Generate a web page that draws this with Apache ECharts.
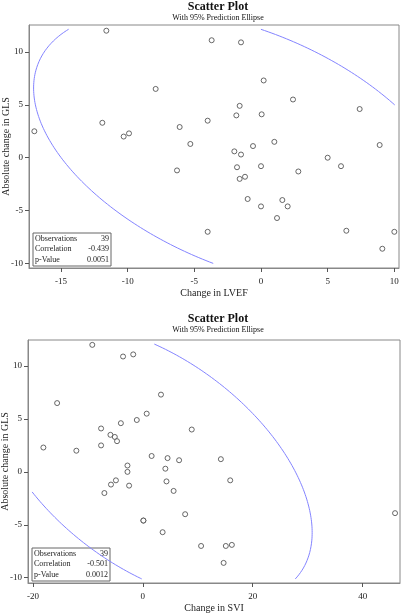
<!DOCTYPE html>
<html>
<head>
<meta charset="utf-8">
<script src="https://cdn.jsdelivr.net/npm/echarts@6/dist/echarts.min.js"></script>
<style>
  html, body { margin: 0; padding: 0; background: #fff; }
  #chart { width: 402px; height: 614px; }
</style>
</head>
<body>
<div id="chart"></div>
<script>
// change in LVEF vs absolute change in GLS
const lvefX = [-17.0, -11.6, -11.9, -10.3, -9.9, -7.9, -6.1, -5.3, -4.0, -3.7,
  -1.85, -1.6, -1.5, -0.6, 0.05, 0.2, 1.0, 2.4, 7.4, 8.9,
  -2.0, -1.5, 5.0, -6.3, -1.8, 0.0, 6.0, 2.8, -1.6, -1.2,
  -1.0, 1.6, 0.0, 2.0, 1.2, -4.0, 6.4, 10.0, 9.1];
const lvefGls = [2.5, 12.0, 3.3, 2.0, 2.3, 6.5, 2.9, 1.3, 3.5, 11.1,
  4.0, 4.9, 10.9, 1.1, 4.1, 7.3, 1.5, 5.5, 4.6, 1.2,
  0.6, 0.3, 0.0, -1.2, -0.9, -0.8, -0.8, -1.3, -2.0, -1.8,
  -3.9, -4.0, -4.6, -4.6, -5.7, -7.0, -6.9, -7.0, -8.6];

// change in SVI vs absolute change in GLS
const sviX = [-9.2, -3.6, -1.75, -15.6, 3.3, 0.7, -1.1, -4.0, -7.6, 8.9,
  -5.9, -5.1, -4.7, -7.6, -18.1, -12.1, 1.6, 4.5, 6.6, 14.2,
  -2.8, 4.1, -2.8, -4.9, -5.8, -2.5, 4.3, 15.9, -7.0, 5.6,
  7.7, 45.9, 0.1, 0.1, 3.6, 10.6, 15.1, 16.2, 14.7];
const sviGls = [12.0, 10.9, 11.1, 6.5, 7.3, 5.5, 4.9, 4.6, 4.1, 4.0,
  3.5, 3.3, 2.9, 2.5, 2.3, 2.0, 1.5, 1.3, 1.1, 1.2,
  0.6, 0.3, 0.0, -0.8, -1.2, -1.3, -0.9, -0.8, -2.0, -1.8,
  -4.0, -3.9, -4.6, -4.6, -5.7, -7.0, -7.0, -6.9, -8.6];

const lvefTicks = [-15, -10, -5, 0, 5, 10];
const sviTicks = [-20, 0, 20, 40];
const glsTicks = [-10, -5, 0, 5, 10];

const statLabels = ['Observations', 'Correlation', 'p-Value'];
const lvefStats = ['39', '-0.439', '0.0051'];
const sviStats = ['39', '-0.501', '0.0012'];

const SERIF = 'Liberation Serif';
const grids = [
  { left: 29, top: 25, width: 370, height: 243 },
  { left: 28, top: 340, width: 372, height: 243 }
];
const xRanges = [[-17.4, 10.35], [-20.9, 46.8]];
const yRanges = [[-10.42, 12.54], [-10.5, 12.46]];

function mean(a) { return a.reduce((s, v) => s + v, 0) / a.length; }

// 95% prediction ellipse, clipped a few px inside the frame like the original
function predictionEllipse(xs, ys, gi) {
  const n = xs.length;
  const mx = mean(xs), my = mean(ys);
  let sxx = 0, syy = 0, sxy = 0;
  for (let i = 0; i < n; i++) {
    sxx += (xs[i] - mx) ** 2;
    syy += (ys[i] - my) ** 2;
    sxy += (xs[i] - mx) * (ys[i] - my);
  }
  sxx /= n - 1; syy /= n - 1; sxy /= n - 1;
  const v = n - 2;
  const f = (v / 2) * (Math.pow(0.05, -2 / v) - 1);
  const c = Math.sqrt(2 * (n - 1) * (n + 1) / (n * (n - 2)) * f);
  const l11 = Math.sqrt(sxx), l21 = sxy / l11, l22 = Math.sqrt(syy - l21 * l21);

  const g = grids[gi], xr = xRanges[gi], yr = yRanges[gi];
  const px = (xr[1] - xr[0]) / g.width, py = (yr[1] - yr[0]) / g.height;
  const inset = 4;
  const x0 = xr[0] + inset * px, x1 = xr[1] - inset * px;
  const y0 = yr[0] + inset * py, y1 = yr[1] - inset * py;

  const pts = [];
  for (let k = 0; k <= 720; k++) {
    const t = k / 720 * Math.PI * 2;
    const x = mx + c * l11 * Math.cos(t);
    const y = my + c * (l21 * Math.cos(t) + l22 * Math.sin(t));
    if (x < x0 || x > x1 || y < y0 || y > y1) pts.push(['-', '-']);
    else pts.push([x, y]);
  }
  return pts;
}

function pairs(xs, ys) { return xs.map((x, i) => [x, ys[i]]); }

function xAxis(gi, name, ticks) {
  return {
    type: 'value', gridIndex: gi, min: xRanges[gi][0], max: xRanges[gi][1],
    name: name, nameLocation: 'middle', nameGap: 20, nameMoveOverlap: false,
    nameTextStyle: { fontFamily: SERIF, fontSize: 10, color: '#222' },
    axisLine: { show: true, onZero: false, lineStyle: { color: '#888' } },
    axisTick: { show: true, length: 4, customValues: ticks, lineStyle: { color: '#555' } },
    axisLabel: { customValues: ticks, fontFamily: SERIF, fontSize: 9, color: '#222', margin: 9 },
    splitLine: { show: false }
  };
}

function yAxis(gi) {
  return {
    type: 'value', gridIndex: gi, min: yRanges[gi][0], max: yRanges[gi][1],
    name: 'Absolute change in GLS', nameLocation: 'middle', nameGap: 18, nameMoveOverlap: false,
    nameTextStyle: { fontFamily: SERIF, fontSize: 10, color: '#222' },
    axisLine: { show: true, onZero: false, lineStyle: { color: '#888' } },
    axisTick: { show: true, length: 4, customValues: glsTicks, lineStyle: { color: '#555' } },
    axisLabel: { customValues: glsTicks, fontFamily: SERIF, fontSize: 9, color: '#222', margin: 6 },
    splitLine: { show: false }
  };
}

function statsBox(gi, values) {
  const g = grids[gi];
  const bx = g.left + 4, by = g.top + g.height - 35, bw = 78, bh = 33;
  const children = [{
    type: 'rect', shape: { x: bx, y: by, width: bw, height: bh },
    style: { fill: '#fff', stroke: '#666', lineWidth: 1 }
  }];
  statLabels.forEach((lab, i) => {
    const ty = by + 6 + i * 10.3;
    children.push({
      type: 'text', x: bx + 2, y: ty,
      style: { text: lab, font: '8px "Liberation Serif"', fill: '#222', textAlign: 'left', textVerticalAlign: 'middle' }
    });
    children.push({
      type: 'text', x: bx + bw - 2, y: ty,
      style: { text: values[i], font: '8px "Liberation Serif"', fill: '#222', textAlign: 'right', textVerticalAlign: 'middle' }
    });
  });
  return { type: 'group', children: children };
}

function titleAt(top) {
  return {
    text: 'Scatter Plot', subtext: 'With 95% Prediction Ellipse',
    left: 218, top: top, textAlign: 'center', padding: 0, itemGap: 1,
    textStyle: { fontFamily: SERIF, fontSize: 12, fontWeight: 'bold', color: '#111' },
    subtextStyle: { fontFamily: SERIF, fontSize: 8, color: '#111' }
  };
}

const markerStyle = { color: '#fff', borderColor: '#444', borderWidth: 1 };
const ellipseStyle = { color: '#8484ff', width: 1 };

const chart = echarts.init(document.getElementById('chart'), null, { renderer: 'canvas' });
chart.setOption({
  animation: false,
  backgroundColor: '#fff',
  title: [titleAt(1), titleAt(313)],
  grid: grids.map(g => Object.assign({
    show: true, borderColor: '#888', borderWidth: 1, backgroundColor: 'transparent',
    containLabel: false, outerBoundsMode: 'none'
  }, g)),
  xAxis: [xAxis(0, 'Change in LVEF', lvefTicks), xAxis(1, 'Change in SVI', sviTicks)],
  yAxis: [yAxis(0), yAxis(1)],
  series: [
    {
      type: 'line', xAxisIndex: 0, yAxisIndex: 0, data: predictionEllipse(lvefX, lvefGls, 0),
      showSymbol: false, connectNulls: false, lineStyle: ellipseStyle, silent: true
    },
    {
      type: 'scatter', xAxisIndex: 0, yAxisIndex: 0, data: pairs(lvefX, lvefGls),
      symbol: 'circle', symbolSize: 5, itemStyle: markerStyle
    },
    {
      type: 'line', xAxisIndex: 1, yAxisIndex: 1, data: predictionEllipse(sviX, sviGls, 1),
      showSymbol: false, connectNulls: false, lineStyle: ellipseStyle, silent: true
    },
    {
      type: 'scatter', xAxisIndex: 1, yAxisIndex: 1, data: pairs(sviX, sviGls),
      symbol: 'circle', symbolSize: 5, itemStyle: markerStyle
    }
  ],
  graphic: [statsBox(0, lvefStats), statsBox(1, sviStats)]
});
</script>
</body>
</html>
